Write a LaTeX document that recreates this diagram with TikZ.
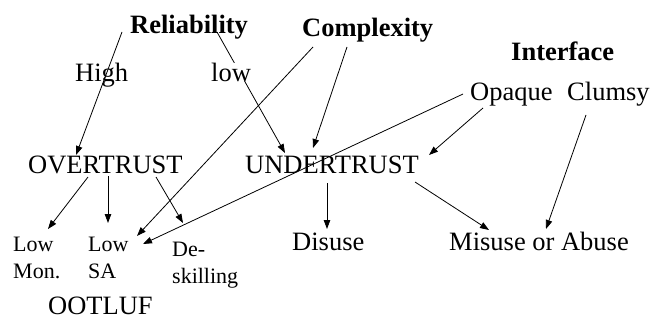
\documentclass[tikz,border=0pt]{standalone}
\usepackage{fontspec}
\setmainfont{Liberation Serif}
\usetikzlibrary{arrows.meta, positioning, calc}

\begin{document}
\begin{tikzpicture}[x=1bp, y=1bp,
    txt/.style={inner sep=0pt, anchor=base west, font=\fontsize{26.5bp}{27bp}\selectfont},
    factor/.style={txt, font=\fontsize{26.5bp}{27bp}\selectfont\bfseries},
    effect/.style={txt, align=left, font=\fontsize{22bp}{27bp}\selectfont},
    arr/.style={-{Triangle[length=9bp, width=6.5bp]}, line width=0.8bp}]
  \useasboundingbox (0,0) rectangle (654,320);

  % factors and their levels
  \node[factor] (rel) at (130,287) {Reliability};
  \node[factor] (cplx) at (302,284) {Complexity};
  \node[factor] (intf) at (511,260) {Interface};
  \node[txt] (high) at (75,239) {High};
  \node[txt] (opq) at (470,220) {Opaque};
  \node[txt] (clm) at (567,220) {Clumsy};

  % trust states and outcomes (two-line nodes sit on their last line)
  \node[txt] (over) at (28,147) {OVERTRUST};
  \node[txt] (under) at (245,147) {UNDERTRUST};
  \node[effect] (lowmon) at (13,42) {Low\\Mon.};
  \node[effect] (lowsa) at (88,42) {Low\\SA};
  \node[effect] (desk) at (172,37) {De-\\skilling};
  \node[txt] (ootluf) at (48,6) {OOTLUF};
  \node[txt] (disuse) at (292,70) {Disuse};
  \node[txt] (misuse) at (449,70) {Misuse or Abuse};

  \draw[arr] ($(rel.base west)+(-8,1)$) -- ($(over.base west)+(48,18)$);
  \draw[arr] ($(rel.base west)+(87,1)$) -- ($(under.base west)+(40,20)$);
  \draw[arr] ($(cplx.base west)+(11,-11)$) -- ($(lowsa.base west)+(49,42)$);
  \draw[arr] ($(cplx.base west)+(45,-11)$) -- ($(under.base west)+(68,25)$);
  \draw[arr] ($(opq.base west)+(-7,6)$) -- ($(lowsa.base west)+(55,34)$);
  \draw[arr] ($(opq.base west)+(13,-8)$) -- ($(under.base west)+(184,18)$);
  \draw[arr] ($(clm.base west)+(19,-15)$) -- ($(misuse.base west)+(97,21)$);

  \draw[arr] ($(over.base west)+(60,-4)$) -- ($(lowmon.base west)+(35,49)$);
  \draw[arr] ($(over.base west)+(80,-3)$) -- ($(lowsa.base west)+(20,55)$);
  \draw[arr] ($(over.base west)+(128,-4)$) -- ($(desk.base west)+(11,60)$);
  \draw[arr] ($(under.base west)+(82,-10)$) -- ($(disuse.base west)+(35,21)$);
  \draw[arr] ($(under.base west)+(170,-9)$) -- ($(misuse.base west)+(40,20)$);

  % sits on top of the reliability line
  \node[txt, fill=white] (low) at (211,239) {low};
\end{tikzpicture}
\end{document}
